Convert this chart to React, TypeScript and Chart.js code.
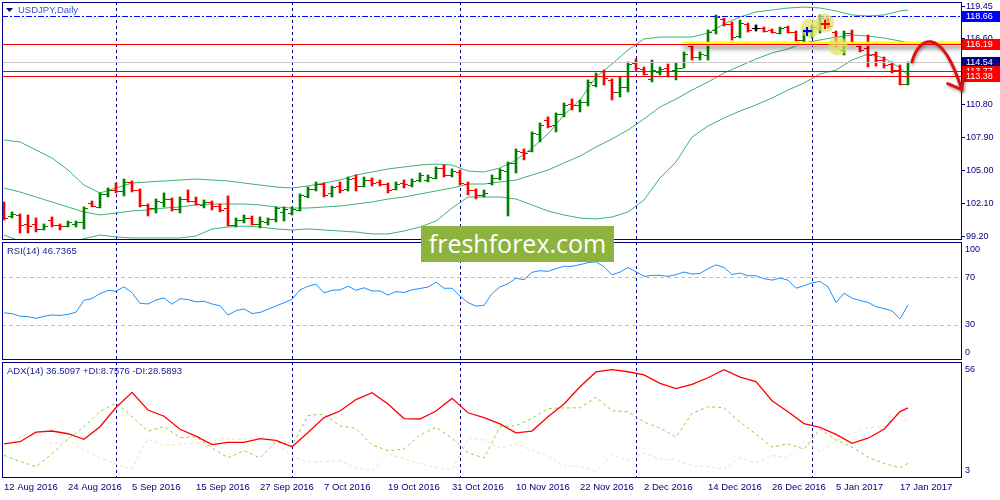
import { useEffect, useRef } from "react";
import { Chart, registerables } from "chart.js";

Chart.register(...registerables);

// time axis labels, one every 8 bars
const dateLabels = [
  "12 Aug 2016", "24 Aug 2016", "5 Sep 2016", "15 Sep 2016", "27 Sep 2016",
  "7 Oct 2016", "19 Oct 2016", "31 Oct 2016", "10 Nov 2016", "22 Nov 2016",
  "2 Dec 2016", "14 Dec 2016", "26 Dec 2016", "5 Jan 2017", "17 Jan 2017",
];
const dateTickIdx = [0, 8, 16, 24, 32, 40, 48, 56, 64, 72, 80, 88, 96, 104, 112];
// first bar of each month (period separators)
const monthStartIdx = [14, 36, 57, 79, 101];

// USDJPY daily bars
const opens = [
  102.10, 101.04, 101.13, 100.34, 100.34, 99.90, 100.69, 100.25, 100.17, 100.34,
  100.52, 102.19, 101.84, 102.98, 103.33, 103.24, 104.03, 103.33, 102.01, 101.75,
  102.27, 102.54, 101.66, 102.54, 102.36, 102.01, 102.27, 101.92, 101.75, 100.25,
  100.69, 100.87, 100.34, 100.52, 100.78, 101.40, 101.31, 101.57, 102.80, 103.42,
  103.86, 103.07, 103.68, 103.42, 104.38, 103.68, 104.21, 104.03, 103.86, 103.42,
  103.94, 103.77, 104.21, 104.21, 104.38, 105.26, 104.65, 104.91, 103.86, 103.33,
  102.89, 103.94, 104.38, 105.00, 105.70, 106.67, 106.76, 108.25, 109.48, 109.04,
  110.01, 110.89, 110.80, 111.06, 112.56, 113.35, 113.00, 111.94, 112.38, 114.49,
  113.96, 113.09, 113.70, 114.05, 113.87, 114.05, 115.98, 115.02, 115.19, 117.39,
  118.36, 117.92, 116.86, 117.92, 117.57, 117.57, 117.39, 117.12, 117.65, 117.21,
  116.51, 117.21, 117.57, 118.36, 117.21, 115.63, 117.12, 115.98, 115.81, 115.28,
  114.75, 114.40, 113.87, 112.65,
];
const highs = [
  102.27, 101.40, 101.22, 101.13, 100.87, 100.34, 100.96, 100.34, 100.60, 100.60,
  101.84, 102.36, 103.07, 103.51, 103.94, 104.30, 104.12, 103.42, 102.10, 102.54,
  103.07, 102.63, 102.71, 103.33, 102.71, 102.45, 102.36, 102.10, 102.80, 100.87,
  101.13, 101.04, 100.96, 100.87, 101.84, 101.84, 101.84, 102.98, 103.59, 104.03,
  103.94, 103.68, 104.03, 104.47, 104.65, 104.47, 104.38, 104.21, 103.94, 104.03,
  104.21, 104.30, 104.82, 104.65, 105.35, 105.53, 105.18, 105.09, 104.03, 103.42,
  103.33, 104.65, 105.18, 105.79, 106.93, 106.93, 108.43, 109.22, 109.75, 110.10,
  110.98, 111.33, 111.24, 113.00, 113.61, 113.87, 113.09, 113.26, 114.58, 114.84,
  114.14, 114.75, 114.14, 114.40, 114.49, 115.46, 116.25, 115.46, 117.39, 118.71,
  118.44, 118.09, 118.27, 118.00, 117.83, 117.65, 117.48, 117.65, 117.74, 117.30,
  117.39, 117.83, 118.71, 118.44, 117.30, 117.30, 117.39, 116.16, 116.95, 115.46,
  115.02, 114.58, 114.31, 114.58,
];
const lows = [
  100.69, 100.87, 99.55, 99.55, 99.64, 99.81, 100.08, 99.81, 100.08, 100.08,
  99.90, 101.84, 101.75, 102.71, 103.07, 102.80, 103.15, 101.84, 101.04, 101.31,
  101.84, 101.48, 101.31, 102.27, 102.01, 101.75, 101.57, 101.40, 100.17, 100.08,
  100.43, 100.25, 99.99, 100.25, 100.52, 100.60, 101.13, 101.48, 102.63, 103.24,
  102.71, 102.71, 103.07, 103.24, 103.24, 103.59, 103.68, 103.68, 103.07, 103.33,
  103.51, 103.59, 104.03, 104.03, 104.30, 104.47, 104.47, 103.77, 102.89, 102.54,
  102.71, 103.77, 104.21, 101.04, 104.82, 105.97, 106.67, 107.55, 108.78, 108.43,
  109.75, 110.36, 110.19, 110.71, 112.38, 112.56, 111.24, 111.50, 111.94, 113.87,
  113.43, 112.82, 113.43, 113.26, 113.00, 114.05, 114.75, 114.75, 114.75, 117.04,
  117.74, 116.51, 116.69, 117.21, 117.30, 117.21, 117.12, 117.04, 117.12, 116.42,
  116.16, 116.69, 117.12, 117.57, 115.89, 115.19, 116.16, 115.46, 114.14, 114.22,
  114.05, 113.61, 112.56, 112.56,
];
const closes = [
  100.87, 101.22, 100.25, 100.17, 99.90, 100.17, 100.25, 100.17, 100.52, 100.52,
  101.75, 101.92, 102.98, 103.33, 103.24, 104.03, 103.33, 102.01, 101.75, 102.36,
  102.54, 101.66, 102.54, 102.36, 102.10, 102.27, 101.92, 101.57, 100.25, 100.69,
  100.87, 100.34, 100.60, 100.78, 101.75, 101.66, 101.66, 102.89, 103.42, 103.86,
  102.89, 103.59, 103.33, 104.30, 103.68, 104.21, 103.94, 103.86, 103.33, 103.86,
  103.86, 104.12, 104.65, 104.47, 105.26, 104.65, 105.00, 103.94, 103.33, 102.89,
  103.07, 104.38, 105.09, 105.70, 106.76, 106.58, 108.34, 109.04, 108.96, 110.01,
  110.80, 110.80, 111.06, 112.82, 113.35, 113.17, 111.94, 112.38, 114.40, 114.05,
  113.52, 113.87, 113.96, 113.79, 114.05, 115.28, 115.02, 115.28, 117.21, 118.53,
  117.92, 116.77, 118.00, 117.39, 117.57, 117.30, 117.21, 117.57, 117.21, 116.51,
  117.21, 117.65, 118.44, 117.74, 116.07, 117.12, 116.25, 115.63, 115.19, 114.75,
  114.31, 113.87, 112.65, 114.54,
];

// Bollinger bands(20), read every second bar
const bandIdx = [
  0, 2, 4, 6, 8, 10, 12, 14, 16, 18, 20, 22, 24, 26, 28, 30, 32, 34, 36, 38,
  40, 42, 44, 46, 48, 50, 52, 54, 56, 58, 60, 62, 64, 66, 68, 70, 72, 74, 76, 78,
  80, 82, 84, 86, 88, 90, 92, 94, 96, 98, 100, 102, 104, 106, 108, 110, 112, 113,
];
const bbUpper = [
  107.72, 107.55, 106.84, 106.14, 105.08, 103.76, 103.06, 103.50, 103.94, 104.03,
  104.12, 104.20, 104.29, 104.20, 104.12, 103.94, 103.76, 103.59, 103.50, 103.68,
  103.94, 104.20, 104.64, 104.91, 105.17, 105.35, 105.52, 105.61, 105.52, 104.99,
  104.91, 105.26, 105.96, 107.02, 108.25, 109.92, 111.24, 113.26, 114.40, 115.63,
  116.60, 116.77, 116.77, 116.77, 117.12, 117.92, 118.53, 118.97, 119.15, 119.32,
  119.41, 119.32, 119.06, 118.71, 118.62, 118.71, 119.06, 119.15,
];
const bbMiddle = [
  103.50, 103.15, 102.71, 102.27, 101.83, 101.39, 101.13, 101.30, 101.48, 101.57,
  101.74, 101.83, 102.01, 102.09, 102.09, 102.09, 102.01, 101.83, 101.74, 101.74,
  101.83, 101.92, 102.09, 102.27, 102.53, 102.71, 102.97, 103.24, 103.50, 103.85,
  103.85, 104.03, 104.20, 104.64, 105.08, 105.70, 106.31, 107.11, 107.81, 108.60,
  109.57, 110.62, 111.32, 112.11, 112.82, 113.61, 114.22, 114.84, 115.37, 115.72,
  116.25, 116.51, 116.77, 116.95, 116.86, 116.69, 116.42, 116.25,
];
const bbLower = [
  99.37, 98.84, 98.58, 98.40, 98.58, 99.05, 99.37, 99.19, 99.11, 99.11,
  99.11, 99.11, 99.28, 99.90, 100.07, 100.16, 100.07, 99.90, 99.81, 99.90,
  99.81, 99.72, 99.63, 99.46, 99.46, 99.72, 100.07, 100.60, 101.74, 102.71,
  102.71, 102.71, 102.53, 102.01, 101.48, 101.13, 100.86, 100.78, 100.95, 101.39,
  102.45, 104.38, 105.79, 107.98, 108.95, 109.65, 110.27, 110.80, 111.41, 112.11,
  112.73, 113.52, 113.87, 114.75, 115.28, 114.93, 114.05, 113.43,
];

// RSI(14), one value per bar
const rsi = [
  40.0, 39.3, 37.1, 36.7, 35.3, 37.0, 38.2, 37.7, 38.7, 40.5,
  50.6, 52.0, 56.3, 59.0, 58.3, 62.0, 57.1, 48.0, 47.5, 50.8,
  52.6, 47.3, 52.0, 51.2, 49.3, 49.8, 47.5, 46.0, 38.0, 41.8,
  43.3, 39.4, 40.3, 43.0, 45.8, 48.5, 51.5, 59.4, 62.5, 64.3,
  56.8, 59.1, 59.4, 62.5, 59.1, 61.2, 58.5, 58.5, 55.0, 58.0,
  57.2, 59.5, 60.6, 61.8, 66.0, 60.8, 60.8, 54.2, 48.6, 45.7,
  46.3, 56.3, 62.0, 64.6, 69.3, 68.0, 74.3, 75.7, 75.1, 77.4,
  79.4, 79.4, 80.8, 82.5, 83.2, 79.0, 72.2, 74.5, 78.3, 74.8,
  70.9, 71.7, 71.8, 70.9, 72.3, 74.6, 72.8, 73.4, 77.3, 80.6,
  78.3, 72.4, 73.7, 71.4, 71.4, 68.9, 67.7, 69.4, 67.7, 60.8,
  62.9, 65.4, 66.6, 62.0, 48.6, 56.6, 52.4, 50.5, 48.8, 45.2,
  43.6, 41.5, 34.9, 46.7,
];
const rsiLevels = [30, 70];
const rsiAxisTicks = [0, 30, 70, 100];

// ADX(14) with +DI / -DI, read every second bar (same positions as bandIdx)
const adx = [
  18.0, 19.1, 24.0, 24.6, 23.2, 20.3, 26.8, 36.7, 44.5, 35.4,
  32.2, 25.5, 22.0, 17.6, 18.8, 18.8, 20.7, 19.8, 16.5, 23.8,
  31.5, 34.9, 40.8, 44.3, 38.5, 31.0, 30.8, 34.9, 41.4, 34.0,
  31.5, 28.3, 23.7, 24.6, 32.0, 38.5, 47.4, 55.0, 56.2, 55.1,
  53.5, 49.1, 46.4, 48.6, 52.0, 56.2, 52.3, 50.0, 40.2, 34.5,
  28.4, 26.5, 22.9, 18.3, 20.9, 25.5, 34.6, 36.5,
];
const plusDi = [
  12.1, 9.0, 6.2, 12.9, 20.5, 26.8, 34.6, 39.0, 32.0, 24.5,
  27.0, 21.2, 21.5, 16.0, 10.8, 14.5, 10.8, 19.0, 16.9, 32.6,
  33.3, 27.2, 26.0, 17.5, 14.5, 15.3, 22.6, 26.5, 21.0, 13.5,
  10.7, 26.8, 27.3, 31.1, 36.2, 36.5, 36.5, 42.0, 35.0, 34.5,
  29.3, 26.1, 21.5, 33.7, 37.1, 36.6, 29.2, 23.0, 16.4, 18.0,
  15.3, 25.5, 20.0, 16.3, 11.2, 7.9, 5.6, 8.0,
];
const minusDi = [
  15.2, 21.4, 24.1, 17.8, 20.2, 14.7, 11.0, 7.5, 5.0, 20.5,
  17.3, 17.8, 18.5, 19.1, 20.7, 20.1, 22.0, 18.3, 11.6, 8.6,
  9.0, 9.2, 5.5, 4.2, 12.8, 10.5, 7.6, 6.0, 4.6, 21.0,
  20.0, 15.7, 18.0, 14.8, 11.5, 6.5, 6.6, 3.8, 12.3, 9.2,
  13.3, 10.2, 9.7, 6.7, 6.3, 5.0, 10.8, 8.2, 12.0, 10.8,
  19.0, 14.0, 19.5, 23.5, 26.4, 26.9, 33.7, 28.6,
];
const adxAxisTicks = [3, 56];

const priceTicks = [99.2, 102.1, 105.0, 107.9, 110.8, 113.7, 116.6, 119.45];
// horizontal lines drawn on the chart (and their price boxes)
const levelPrices = [118.66, 116.19, 114.54, 113.77, 113.38];
const highlightFrom = 84.9; // yellow highlight on the 116.19 level starts here

const NAVY = "#000080";
const TEXT = "#00007a";
const FONT = "'Liberation Sans', Arial, sans-serif";
const X_MIN = -0.25;
const X_MAX = 119.75;

const levelStyles = [
  { color: "#0000ff", dash: [6, 2, 2, 2], box: "#0000ff" },
  { color: "#ff0000", dash: [], box: "#ff0000" },
  { color: "#c8c8c8", dash: [], box: "#000080" },
  { color: "#ff0000", dash: [], box: "#ff0000" },
  { color: "#ff0000", dash: [], box: "#ff0000" },
];

function barColor(i: number) {
  if (closes[i] > opens[i]) return "#008000";
  if (closes[i] < opens[i]) return "#ff0000";
  return "#000000";
}

function xAxis(show: boolean) {
  return {
    type: "linear",
    min: X_MIN,
    max: X_MAX,
    offset: false,
    display: show,
    grid: { display: false, drawTicks: false },
    border: { display: false },
    afterBuildTicks: (s: any) => {
      s.ticks = dateTickIdx.map((v) => ({ value: v }));
    },
    ticks: {
      autoSkip: false,
      maxRotation: 0,
      align: "start",
      padding: 4,
      color: TEXT,
      font: { family: FONT, size: 9.5 },
      callback: (_v: any, i: number) => dateLabels[i],
    },
    afterFit: (s: any) => {
      s.height = show ? 22 : 0;
      s.paddingLeft = 0;
      s.paddingRight = 0;
    },
  };
}

function hiddenY(min: number, max: number) {
  return {
    type: "linear",
    position: "right",
    min,
    max,
    ticks: { display: false },
    grid: { display: false },
    border: { display: false },
    afterFit: (s: any) => {
      s.width = 38;
      s.paddingTop = 0;
      s.paddingBottom = 0;
    },
  };
}

function drawSeparators(chart: any) {
  const { ctx, chartArea: a, scales } = chart;
  ctx.save();
  ctx.strokeStyle = NAVY;
  ctx.lineWidth = 1;
  ctx.setLineDash([3, 3]);
  for (const i of monthStartIdx) {
    const x = Math.round(scales.x.getPixelForValue(i)) + 0.5;
    ctx.beginPath();
    ctx.moveTo(x, a.top);
    ctx.lineTo(x, a.bottom);
    ctx.stroke();
  }
  ctx.restore();
}

function drawFrame(chart: any) {
  const { ctx, chartArea: a } = chart;
  ctx.save();
  ctx.strokeStyle = NAVY;
  ctx.lineWidth = 1;
  ctx.strokeRect(a.left + 0.5, a.top + 0.5, a.right - a.left - 1, a.bottom - a.top - 1);
  ctx.restore();
}

function drawPanelTitle(chart: any, text: string) {
  const { ctx, chartArea: a } = chart;
  ctx.save();
  ctx.fillStyle = "#1a1a96";
  ctx.font = `9.5px ${FONT}`;
  ctx.textBaseline = "middle";
  ctx.fillText(text, a.left + 5, a.top + 9);
  ctx.restore();
}

function drawSideLabels(chart: any, values: number[]) {
  const { ctx, chartArea: a, scales } = chart;
  ctx.save();
  ctx.fillStyle = TEXT;
  ctx.font = `9px ${FONT}`;
  ctx.textBaseline = "middle";
  for (const v of values) {
    const y = Math.min(Math.max(scales.y.getPixelForValue(v), a.top + 8), a.bottom - 7);
    ctx.fillText(String(v), a.right + 3, y);
  }
  ctx.restore();
}

const pricePlugin = {
  id: "pricePanel",
  beforeDatasetsDraw(chart: any) {
    drawSeparators(chart);
  },
  afterDatasetsDraw(chart: any) {
    const { ctx, chartArea: a, scales } = chart;
    const { x, y } = scales;
    ctx.save();
    ctx.beginPath();
    ctx.rect(a.left, a.top, a.right - a.left, a.bottom - a.top);
    ctx.clip();

    // open / close ticks of the OHLC bars
    opens.forEach((o, i) => {
      const cx = Math.round(x.getPixelForValue(i));
      ctx.fillStyle = barColor(i);
      ctx.fillRect(cx - 4, Math.round(y.getPixelForValue(o)), 3, 1);
      ctx.fillRect(cx + 1, Math.round(y.getPixelForValue(closes[i])), 3, 1);
    });

    // yellow highlight with shadow
    const yh = y.getPixelForValue(levelPrices[1]);
    ctx.save();
    ctx.shadowColor = "rgba(0,0,0,0.45)";
    ctx.shadowBlur = 5;
    ctx.shadowOffsetY = 3;
    ctx.strokeStyle = "#ffff00";
    ctx.lineWidth = 4;
    ctx.beginPath();
    ctx.moveTo(x.getPixelForValue(highlightFrom), yh);
    ctx.lineTo(a.right, yh);
    ctx.stroke();
    ctx.restore();

    levelPrices.forEach((p, k) => {
      const yy = Math.round(y.getPixelForValue(p)) + 0.5;
      ctx.strokeStyle = levelStyles[k].color;
      ctx.lineWidth = 1;
      ctx.setLineDash(levelStyles[k].dash);
      ctx.beginPath();
      ctx.moveTo(a.left, yy);
      ctx.lineTo(a.right, yy);
      ctx.stroke();
    });
    ctx.setLineDash([]);

    // highlighted trades
    const circles = [
      [100.75, 117.57],
      [102.6, 118.0],
      [104.25, 115.98],
    ];
    ctx.fillStyle = "rgba(226,226,100,0.72)";
    for (const [ci, cp] of circles) {
      ctx.beginPath();
      ctx.arc(x.getPixelForValue(ci), y.getPixelForValue(cp), 9.5, 0, Math.PI * 2);
      ctx.fill();
    }
    const marks = [
      { i: 100.4, p: 117.3, c: "#0000ff" },
      { i: 102.65, p: 117.95, c: "#ff0000" },
    ];
    for (const m of marks) {
      const mx = Math.round(x.getPixelForValue(m.i));
      const my = Math.round(y.getPixelForValue(m.p));
      ctx.fillStyle = m.c;
      ctx.fillRect(mx - 4, my - 1, 9, 2);
      ctx.fillRect(mx - 1, my - 4, 2, 9);
    }
    ctx.restore();

    drawFrame(chart);

    // symbol title
    ctx.save();
    ctx.fillStyle = NAVY;
    ctx.beginPath();
    ctx.moveTo(a.left + 4, a.top + 6);
    ctx.lineTo(a.left + 11, a.top + 6);
    ctx.lineTo(a.left + 7.5, a.top + 10);
    ctx.closePath();
    ctx.fill();
    ctx.fillStyle = "#3456c8";
    ctx.font = `9.5px ${FONT}`;
    ctx.textBaseline = "middle";
    ctx.fillText("USDJPY,Daily", a.left + 16, a.top + 8.5);
    ctx.restore();
  },
  afterDraw(chart: any) {
    const { ctx, chartArea: a, scales } = chart;
    const { x, y } = scales;
    ctx.save();
    ctx.font = `9px ${FONT}`;
    ctx.textBaseline = "middle";
    levelPrices.forEach((p, k) => {
      const yy = Math.round(y.getPixelForValue(p));
      ctx.fillStyle = levelStyles[k].box;
      ctx.fillRect(a.right, yy - 5, 38, 11);
      ctx.fillStyle = "#ffffff";
      ctx.fillText(p.toFixed(2), a.right + 4, yy + 0.5);
    });

    // forecast arrow
    const p0 = [x.getPixelForValue(113.5), y.getPixelForValue(114.58)];
    const p1 = [x.getPixelForValue(114.25), y.getPixelForValue(116.6)];
    const p2 = [x.getPixelForValue(117.0), y.getPixelForValue(118.1)];
    const p3 = [x.getPixelForValue(119.72), y.getPixelForValue(112.15)];
    ctx.shadowColor = "rgba(0,0,0,0.35)";
    ctx.shadowBlur = 3;
    ctx.shadowOffsetX = 1;
    ctx.shadowOffsetY = 2;
    ctx.strokeStyle = "#e0100c";
    ctx.lineWidth = 3;
    ctx.lineCap = "round";
    ctx.lineJoin = "round";
    ctx.beginPath();
    ctx.moveTo(p0[0], p0[1]);
    ctx.bezierCurveTo(p1[0], p1[1], p2[0], p2[1], p3[0], p3[1]);
    ctx.stroke();
    ctx.beginPath();
    ctx.moveTo(p3[0] - 14, p3[1] - 6);
    ctx.lineTo(p3[0], p3[1]);
    ctx.lineTo(p3[0] + 2, p3[1] - 14);
    ctx.stroke();
    ctx.restore();
  },
};

const rsiPlugin = {
  id: "rsiPanel",
  beforeDatasetsDraw(chart: any) {
    drawSeparators(chart);
    const { ctx, chartArea: a, scales } = chart;
    ctx.save();
    ctx.strokeStyle = "#c0c0c0";
    ctx.setLineDash([4, 3]);
    for (const v of rsiLevels) {
      const yy = Math.round(scales.y.getPixelForValue(v)) + 0.5;
      ctx.beginPath();
      ctx.moveTo(a.left, yy);
      ctx.lineTo(a.right, yy);
      ctx.stroke();
    }
    ctx.restore();
  },
  afterDatasetsDraw(chart: any) {
    drawFrame(chart);
    drawPanelTitle(chart, "RSI(14) 46.7365");
    drawSideLabels(chart, rsiAxisTicks);
  },
};

const adxPlugin = {
  id: "adxPanel",
  beforeDatasetsDraw(chart: any) {
    drawSeparators(chart);
  },
  afterDatasetsDraw(chart: any) {
    drawFrame(chart);
    drawPanelTitle(chart, "ADX(14) 36.5097 +DI:8.7576 -DI:28.5893");
    drawSideLabels(chart, adxAxisTicks);
  },
};

const common = {
  responsive: false,
  maintainAspectRatio: false,
  animation: false,
  events: [],
  plugins: { legend: { display: false }, tooltip: { enabled: false } },
};

function bandLine(values: number[]) {
  return {
    type: "line",
    data: bandIdx.map((i, k) => ({ x: i, y: values[k] })),
    borderColor: "#3cb371",
    borderWidth: 1,
    pointRadius: 0,
    tension: 0,
    order: 2,
  };
}

function sparseLine(values: number[], color: string, width: number, dash: number[], order: number) {
  return {
    data: bandIdx.map((i, k) => ({ x: i, y: values[k] })),
    borderColor: color,
    borderWidth: width,
    borderDash: dash,
    pointRadius: 0,
    tension: 0,
    order,
  };
}

export default function App() {
  const priceRef = useRef<HTMLCanvasElement>(null);
  const rsiRef = useRef<HTMLCanvasElement>(null);
  const adxRef = useRef<HTMLCanvasElement>(null);

  useEffect(() => {
    document.body.style.margin = "0";
    if (!priceRef.current || !rsiRef.current || !adxRef.current) return;

    const price = new Chart(priceRef.current, {
      type: "bar",
      data: {
        datasets: [
          {
            type: "bar",
            data: highs.map((h, i) => ({ x: i, y: [lows[i], h] })),
            backgroundColor: highs.map((_h, i) => barColor(i)),
            barThickness: 2,
            borderWidth: 0,
            borderSkipped: false,
            order: 1,
          },
          bandLine(bbUpper),
          bandLine(bbMiddle),
          bandLine(bbLower),
        ],
      } as any,
      options: {
        ...common,
        layout: { padding: { left: 2, top: 2, bottom: 1, right: 0 } },
        scales: {
          x: xAxis(false),
          y: {
            type: "linear",
            position: "right",
            min: 98.93,
            max: 119.85,
            afterBuildTicks: (s: any) => {
              s.ticks = priceTicks.map((v) => ({ value: v }));
            },
            ticks: {
              color: TEXT,
              font: { family: FONT, size: 9 },
              padding: 1,
              callback: (v: any) => Number(v).toFixed(2),
            },
            grid: { drawOnChartArea: false, drawTicks: true, tickLength: 3, color: NAVY },
            border: { display: false },
            afterFit: (s: any) => {
              s.width = 38;
              s.paddingTop = 0;
              s.paddingBottom = 0;
            },
          },
        },
      } as any,
      plugins: [pricePlugin],
    });

    const rsiChart = new Chart(rsiRef.current, {
      type: "line",
      data: {
        datasets: [
          {
            data: rsi.map((v, i) => ({ x: i, y: v })),
            borderColor: "#1e90ff",
            borderWidth: 1,
            pointRadius: 0,
            tension: 0,
          },
        ],
      } as any,
      options: {
        ...common,
        layout: { padding: { left: 2, top: 1, bottom: 1, right: 0 } },
        scales: { x: xAxis(false), y: hiddenY(0, 100) },
      } as any,
      plugins: [rsiPlugin],
    });

    const adxChart = new Chart(adxRef.current, {
      type: "line",
      data: {
        datasets: [
          sparseLine(adx, "#ff0000", 1.3, [], 1),
          sparseLine(plusDi, "#9acd32", 1, [3, 3], 2),
          sparseLine(minusDi, "#f5deb3", 1, [3, 3], 3),
        ],
      } as any,
      options: {
        ...common,
        layout: { padding: { left: 2, top: 1, bottom: 0, right: 0 } },
        scales: { x: xAxis(true), y: hiddenY(0.43, 60.12) },
      } as any,
      plugins: [adxPlugin],
    });

    return () => {
      price.destroy();
      rsiChart.destroy();
      adxChart.destroy();
    };
  }, []);

  return (
    <div style={{ position: "relative", width: 1000, height: 500, background: "#ffffff", overflow: "hidden" }}>
      <canvas ref={priceRef} width={1000} height={241} style={{ position: "absolute", left: 0, top: 0 }} />
      <canvas ref={rsiRef} width={1000} height={120} style={{ position: "absolute", left: 0, top: 241 }} />
      <canvas ref={adxRef} width={1000} height={139} style={{ position: "absolute", left: 0, top: 361 }} />
      <div
        style={{
          position: "absolute",
          left: 421,
          top: 226,
          width: 193,
          height: 36,
          background: "#8db33f",
          color: "#ffffff",
          fontFamily: "'Open Sans', sans-serif",
          fontSize: 25,
          lineHeight: "34px",
          textAlign: "center",
        }}
      >
        freshforex.com
      </div>
    </div>
  );
}
